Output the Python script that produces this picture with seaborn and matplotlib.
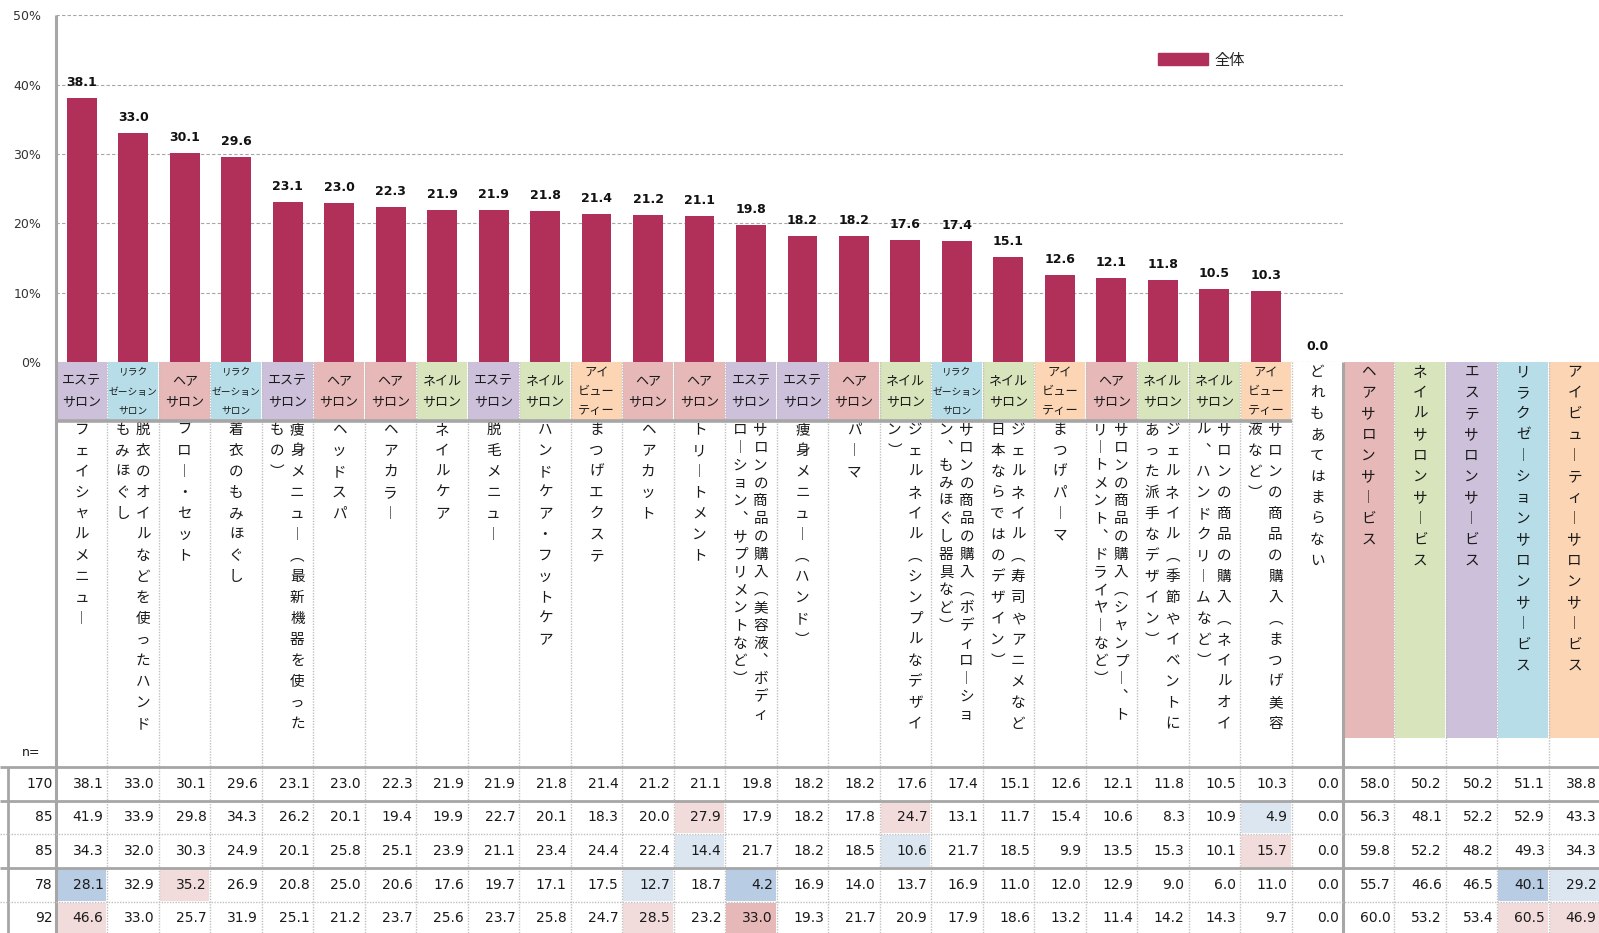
import matplotlib
matplotlib.use("Agg")
import matplotlib.pyplot as plt
import seaborn as sns
import pandas as pd
from matplotlib.patches import Rectangle

# ---------------- data ----------------
items = [
    "フェイシャルメニュー",
    "脱衣のオイルなどを使ったハンド\nもみほぐし",
    "ブロー・セット",
    "着衣のもみほぐし",
    "痩身メニュー（最新機器を使った\nもの）",
    "ヘッドスパ",
    "ヘアカラー",
    "ネイルケア",
    "脱毛メニュー",
    "ハンドケア・フットケア",
    "まつげエクステ",
    "ヘアカット",
    "トリートメント",
    "サロンの商品の購入（美容液、ボディ\nローション、サプリメントなど）",
    "痩身メニュー（ハンド）",
    "パーマ",
    "ジェルネイル（シンプルなデザイ\nン）",
    "サロンの商品の購入（ボディローショ\nン、もみほぐし器具など）",
    "ジェルネイル（寿司やアニメなど\n日本ならではのデザイン）",
    "まつげパーマ",
    "サロンの商品の購入（シャンプー、ト\nリートメント、ドライヤーなど）",
    "ジェルネイル（季節やイベントに\nあった派手なデザイン）",
    "サロンの商品の購入（ネイルオイ\nル、ハンドクリームなど）",
    "サロンの商品の購入（まつげ美容\n液など）",
    "どれもあてはまらない",
]
salon_types = [
    "エステサロン", "リラクゼーションサロン", "ヘアサロン", "リラクゼーションサロン",
    "エステサロン", "ヘアサロン", "ヘアサロン", "ネイルサロン", "エステサロン",
    "ネイルサロン", "アイビューティー", "ヘアサロン", "ヘアサロン", "エステサロン",
    "エステサロン", "ヘアサロン", "ネイルサロン", "リラクゼーションサロン",
    "ネイルサロン", "アイビューティー", "ヘアサロン", "ネイルサロン", "ネイルサロン",
    "アイビューティー", None,
]
overall_pct = [38.1, 33.0, 30.1, 29.6, 23.1, 23.0, 22.3, 21.9, 21.9, 21.8, 21.4, 21.2,
               21.1, 19.8, 18.2, 18.2, 17.6, 17.4, 15.1, 12.6, 12.1, 11.8, 10.5, 10.3, 0.0]
services = ["ヘアサロンサービス", "ネイルサロンサービス", "エステサロンサービス",
            "リラクゼーションサロンサービス", "アイビューティーサロンサービス"]
service_types = ["ヘアサロン", "ネイルサロン", "エステサロン", "リラクゼーションサロン", "アイビューティー"]
legend_label = "全体"
y_ticks = [0, 10, 20, 30, 40, 50]

n_values = [170, 85, 85, 78, 92]
row_all = [38.1, 33.0, 30.1, 29.6, 23.1, 23.0, 22.3, 21.9, 21.9, 21.8, 21.4, 21.2, 21.1, 19.8, 18.2,
           18.2, 17.6, 17.4, 15.1, 12.6, 12.1, 11.8, 10.5, 10.3, 0.0, 58.0, 50.2, 50.2, 51.1, 38.8]
row_a = [41.9, 33.9, 29.8, 34.3, 26.2, 20.1, 19.4, 19.9, 22.7, 20.1, 18.3, 20.0, 27.9, 17.9, 18.2,
         17.8, 24.7, 13.1, 11.7, 15.4, 10.6, 8.3, 10.9, 4.9, 0.0, 56.3, 48.1, 52.2, 52.9, 43.3]
row_b = [34.3, 32.0, 30.3, 24.9, 20.1, 25.8, 25.1, 23.9, 21.1, 23.4, 24.4, 22.4, 14.4, 21.7, 18.2,
         18.5, 10.6, 21.7, 18.5, 9.9, 13.5, 15.3, 10.1, 15.7, 0.0, 59.8, 52.2, 48.2, 49.3, 34.3]
row_c = [28.1, 32.9, 35.2, 26.9, 20.8, 25.0, 20.6, 17.6, 19.7, 17.1, 17.5, 12.7, 18.7, 4.2, 16.9,
         14.0, 13.7, 16.9, 11.0, 12.0, 12.9, 9.0, 6.0, 11.0, 0.0, 55.7, 46.6, 46.5, 40.1, 29.2]
row_d = [46.6, 33.0, 25.7, 31.9, 25.1, 21.2, 23.7, 25.6, 23.7, 25.8, 24.7, 28.5, 23.2, 33.0, 19.3,
         21.7, 20.9, 17.9, 18.6, 13.2, 11.4, 14.2, 14.3, 9.7, 0.0, 60.0, 53.2, 53.4, 60.5, 46.9]
table_rows = [row_all, row_a, row_b, row_c, row_d]
# (row, column, level): +1 light pink, +2 pink, -1 light blue, -2 blue
highlights = [(1, 12, 1), (1, 16, 1), (1, 23, -1),
              (2, 12, -1), (2, 16, -1), (2, 23, 1),
              (3, 0, -2), (3, 2, 1), (3, 11, -1), (3, 13, -2), (3, 28, -2), (3, 29, -1),
              (4, 0, 1), (4, 11, 1), (4, 13, 2), (4, 28, 1), (4, 29, 1)]

# ---------------- style ----------------
BAR = "#b0305a"
salon_colors = {"エステサロン": "#ccc0da", "リラクゼーションサロン": "#b7dee8",
                "ヘアサロン": "#e6b8b7", "ネイルサロン": "#d8e4bc", "アイビューティー": "#fcd5b4"}
salon_header = {"エステサロン": ("エステ\nサロン", 9.4), "ヘアサロン": ("ヘア\nサロン", 9.4),
                "ネイルサロン": ("ネイル\nサロン", 9.4),
                "リラクゼーションサロン": ("リラク\nゼーション\nサロン", 7.0),
                "アイビューティー": ("アイ\nビュー\nティー", 8.8)}
level_colors = {1: "#f2dcdb", 2: "#e6b8b7", -1: "#dce6f1", -2: "#b8cce4"}
GRID = "#a6a6a6"
DOT = "#c0c0c0"
# vertical presentation forms used in the vertical labels
VFORM = {"ー": "︱", "（": "︵", "）": "︶", "、": "︑"}

sns.set_style("white")
plt.rcParams["font.family"] = ["DejaVu Sans", "Noto Sans CJK JP"]
JP = ["Noto Sans CJK JP", "DejaVu Sans"]

WP, HP, DPI = 1599, 933, 100
fig = plt.figure(figsize=(WP / DPI, HP / DPI), dpi=DPI)
fig.patch.set_facecolor("white")

AX_L, AX_R, AX_T, AX_B = 56, 1343, 15.3, 362
ax = fig.add_axes([AX_L / WP, 1 - AX_B / HP, (AX_R - AX_L) / WP, (AX_B - AX_T) / HP])

df = pd.DataFrame({"item": [s.replace("\n", "") for s in items], "pct": overall_pct})
sns.barplot(data=df, x="item", y="pct", order=list(df["item"]), color=BAR, saturation=1,
            width=0.58, errorbar=None, linewidth=0, ax=ax)
ax.set_xlim(-0.5, len(items) - 0.5)
ax.set_ylim(0, 50)
ax.set_yticks(y_ticks)
ax.set_yticklabels([f"{t}%" for t in y_ticks])
ax.tick_params(axis="y", length=0, pad=10.5, labelsize=9, labelcolor="#333333")
ax.set_xticks([])
ax.set_xlabel("")
ax.set_ylabel("")
for s in ax.spines.values():
    s.set_visible(False)
ax.yaxis.grid(True, color=GRID, linestyle=(0, (3, 2)), linewidth=0.8)
ax.xaxis.grid(False)
ax.set_axisbelow(True)

for p in ax.patches:
    h = p.get_height()
    ax.annotate(f"{h:.1f}", xy=(p.get_x() + p.get_width() / 2, h), xytext=(0, 8.6),
                textcoords="offset points", ha="center", va="baseline",
                fontsize=9, fontweight="bold", color="#111111")

ax.legend(handles=[Rectangle((0, 0), 1, 1, color=BAR)], labels=[legend_label],
          loc="center left", bbox_to_anchor=(1158 / WP, 1 - 60 / HP),
          bbox_transform=fig.transFigure, frameon=False, handlelength=3.3,
          handleheight=0.8, handletextpad=0.4, borderpad=0, borderaxespad=0,
          prop={"family": JP, "size": 11})

# ---------------- overlay (pixel coordinates) ----------------
ov = fig.add_axes([0, 0, 1, 1])
ov.set_xlim(0, WP)
ov.set_ylim(HP, 0)
ov.axis("off")

c0 = ax.transData.transform((0, 0))[0]
c1 = ax.transData.transform((1, 0))[0]
CW = c1 - c0


def cx(i):
    return c0 + i * CW


def cl(i):
    return cx(i) - CW / 2


HDR_T, HDR_B, SVC_B = 362, 421, 738
LBL_Y0, SVC_Y0 = 430, 372
ROW_LINES = [767, 800.5, 834, 868, 901.5, 935]
ROW_SOLID = [True, True, False, True, False]
NCOL_L = 8
n_items = len(items)
n_cols = n_items + len(services)


def vertical(text, xc, y0, step, size=10.5, color="#1a1a1a"):
    cols = text.split("\n")
    nc = len(cols)
    for k, col in enumerate(cols):
        x = xc + 20.5 * ((nc - 1) / 2 - k) - (0.5 if nc > 1 else 0)
        for j, ch in enumerate(col):
            y = y0 + j * step
            ov.text(x, y, VFORM.get(ch, ch), ha="center", va="center",
                    fontsize=size, family=JP, color=color)


# header cells and labels for bar columns
for i, (name, st) in enumerate(zip(items, salon_types)):
    if st is not None:
        ov.add_patch(Rectangle((cl(i) + 0.5, HDR_T), CW - 1, HDR_B - HDR_T,
                               facecolor=salon_colors[st], edgecolor="none", zorder=1))
        lines, fs = salon_header[st]
        ll = lines.split("\n")
        sp = 21 if len(ll) == 2 else 19.3
        mid = (HDR_T + HDR_B) / 2
        for k, t in enumerate(ll):
            ov.text(cx(i), mid + (k - (len(ll) - 1) / 2) * sp, t, ha="center", va="center",
                    fontsize=fs, family=JP, color="#1a1a1a")
        longest = max(len(c) for c in name.split("\n"))
        step = 17.8 if longest > 15 else 21
        vertical(name, cx(i), LBL_Y0, step)
    else:
        vertical(name, cx(i), SVC_Y0, 21)

# service columns
for k, (sv, st) in enumerate(zip(services, service_types)):
    i = n_items + k
    ov.add_patch(Rectangle((cl(i) + 0.5, HDR_T), CW - 1, SVC_B - HDR_T,
                           facecolor=salon_colors[st], edgecolor="none", zorder=1))
    vertical(sv, cx(i), SVC_Y0, 21)

# highlighted table cells
for r, c, lev in highlights:
    ov.add_patch(Rectangle((cl(c) + 1, ROW_LINES[r] + 1), CW - 2, ROW_LINES[r + 1] - ROW_LINES[r] - 2,
                           facecolor=level_colors[lev], edgecolor="none", zorder=1))

# vertical separators
for i in range(1, n_cols):
    x = cl(i)
    if i == n_items:
        ov.plot([x, x], [HDR_T, HP], color=GRID, lw=2.2, zorder=3, solid_capstyle="butt")
    else:
        ov.plot([x, x], [HDR_T, HP], color=DOT, lw=1, linestyle=(0, (1, 1)), zorder=3)
ov.plot([AX_L, AX_L], [AX_T, HP], color=GRID, lw=2.2, zorder=3, solid_capstyle="butt")
ov.plot([NCOL_L, NCOL_L], [ROW_LINES[0], HP], color=GRID, lw=2, zorder=3, solid_capstyle="butt")

# horizontal lines
ov.plot([AX_L, cl(n_items - 1)], [HDR_B, HDR_B], color=GRID, lw=2.6, zorder=3, solid_capstyle="butt")
for k, yl in enumerate(ROW_LINES[:-1]):
    if ROW_SOLID[k]:
        ov.plot([0, WP], [yl, yl], color=GRID, lw=2, zorder=3, solid_capstyle="butt")
    else:
        ov.plot([0, WP], [yl, yl], color=DOT, lw=1, linestyle=(0, (1, 1)), zorder=3)

# table text
ov.text(40, 753, "n=", ha="right", va="center", fontsize=9, color="#1a1a1a")
for r, (n, vals) in enumerate(zip(n_values, table_rows)):
    yc = (ROW_LINES[r] + ROW_LINES[r + 1]) / 2
    ov.text(AX_L - 3.5, yc, f"{n}", ha="right", va="center", fontsize=10, color="#1a1a1a", zorder=4)
    for c, v in enumerate(vals):
        ov.text(cl(c) + CW - 4, yc, f"{v:.1f}", ha="right", va="center", fontsize=10,
                color="#1a1a1a", zorder=4)

fig.savefig("out.png", dpi=DPI, facecolor="white")
